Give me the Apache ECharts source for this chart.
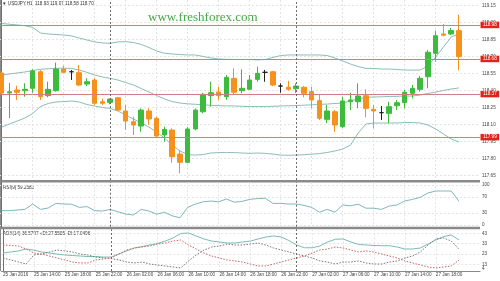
<!DOCTYPE html>
<html><head><meta charset="utf-8">
<script src="https://cdn.jsdelivr.net/npm/echarts@6/dist/echarts.min.js"></script>
<style>html,body{margin:0;padding:0;background:#fff}#c{width:500px;height:281px}</style>
</head><body><div id="c"></div>
<script>
const symbolName = 'USDJPY,H1';
const tickIndex = [0,4,8,12,16,20,24,28,32,36,40,44,48,52,56];
const tickLabels = ['25 Jan 2016','25 Jan 14:00','25 Jan 18:00','25 Jan 22:00','26 Jan 02:00','26 Jan 06:00','26 Jan 10:00','26 Jan 14:00','26 Jan 18:00','26 Jan 22:00','27 Jan 02:00','27 Jan 06:00','27 Jan 10:00','27 Jan 14:00','27 Jan 18:00'];
const daySeparators = [14, 38];

const open = [118.556,118.38,118.406,118.40,118.421,118.567,118.356,118.40,118.591,118.567, 118.559,118.459,118.494,118.303,118.297,118.338,118.221,118.126,118.088,118.221, 118.156,118.009,118.053,117.841,117.768,118.062,118.214,118.356,118.388,118.347, 118.509,118.40,118.412,118.50,118.562,118.567,118.441,118.43,118.417,118.43, 118.391,118.312,118.147,118.214,118.082,118.303,118.303,118.356,118.236,118.206, 118.20,118.267,118.294,118.377,118.412,118.523,118.73,118.90,118.90,118.93];
const close = [118.379,118.39,118.386,118.412,118.574,118.347,118.412,118.591,118.562,118.567, 118.45,118.479,118.289,118.289,118.326,118.229,118.132,118.097,118.229,118.15, 118.0,118.059,117.817,117.768,118.062,118.229,118.368,118.382,118.356,118.518, 118.386,118.421,118.494,118.553,118.562,118.45,118.441,118.412,118.441,118.377, 118.318,118.156,118.221,118.097,118.309,118.318,118.353,118.244,118.221,118.206, 118.259,118.294,118.386,118.421,118.509,118.739,118.885,118.889,118.93,118.70];
const low = [118.37,118.159,118.318,118.347,118.382,118.318,118.342,118.391,118.555,118.494, 118.44,118.44,118.274,118.274,118.28,118.22,118.053,118.009,118.038,118.097, 117.99,117.95,117.764,117.671,117.76,118.05,118.2,118.259,118.318,118.318, 118.362,118.377,118.406,118.479,118.479,118.44,118.382,118.40,118.38,118.342, 118.244,118.141,118.112,118.038,118.07,118.229,118.244,118.165,118.068,118.141, 118.112,118.229,118.244,118.332,118.391,118.421,118.656,118.88,118.89,118.58];
const high = [118.57,118.468,118.444,118.465,118.589,118.582,118.479,118.647,118.62,118.583, 118.627,118.509,118.51,118.33,118.33,118.345,118.274,118.17,118.244,118.244, 118.17,118.082,118.068,117.876,118.08,118.244,118.382,118.479,118.435,118.538, 118.597,118.589,118.538,118.612,118.583,118.575,118.465,118.488,118.465,118.441, 118.435,118.362,118.274,118.229,118.347,118.382,118.465,118.412,118.274,118.265, 118.303,118.318,118.406,118.45,118.53,118.759,118.929,118.988,118.953,119.07];

const bbUpper = [118.993,118.986,118.98,118.973,118.958,118.909,118.90,118.896,118.891,118.883, 118.865,118.847,118.83,118.821,118.818,118.83,118.832,118.825,118.808,118.781, 118.75,118.73,118.724,118.719,118.715,118.715,118.702,118.688,118.68,118.677, 118.675,118.675,118.675,118.671,118.675,118.693,118.71,118.715,118.715,118.715, 118.715,118.715,118.71,118.688,118.662,118.635,118.613,118.597,118.596,118.591, 118.591,118.587,118.582,118.582,118.582,118.618,118.697,118.785,118.874,118.90];
const bbMiddle = [118.538,118.547,118.556,118.565,118.578,118.589,118.593,118.598,118.598,118.596, 118.583,118.562,118.538,118.521,118.509,118.494,118.472,118.45,118.419,118.388, 118.357,118.327,118.304,118.291,118.284,118.28,118.275,118.271,118.268,118.266, 118.265,118.262,118.26,118.26,118.26,118.262,118.265,118.267,118.269,118.272, 118.275,118.279,118.282,118.287,118.291,118.309,118.327,118.342,118.344,118.346, 118.349,118.35,118.353,118.353,118.362,118.375,118.388,118.402,118.415,118.424];
const bbLower = [118.079,118.106,118.132,118.159,118.199,118.26,118.287,118.30,118.304,118.309, 118.30,118.278,118.265,118.252,118.243,118.221,118.185,118.15,118.115,118.079, 118.035,117.982,117.92,117.868,117.837,117.832,117.837,117.85,117.854,117.854, 117.854,117.85,117.847,117.85,117.847,117.84,117.832,117.83,117.832,117.835, 117.84,117.845,117.855,117.868,117.885,117.92,118.026,118.106,118.115,118.115, 118.115,118.115,118.119,118.119,118.115,118.097,118.062,118.018,117.974,117.947];

const levels = [118.98, 118.68, 118.37, 117.99];
const priceTicks = [117.65,117.80,117.95,118.10,118.25,118.40,118.55,118.70,118.85,119.00,119.15];

const rsi = [35.8,36,37.5,39,52.5,39,42.5,54,52.5,52, 44,46,36,35,39,33,27.5,25,39,35, 27,32,23,18,44,52.5,58,60,58,65, 57,59,64,66,67,54,54,52.5,52.5,49, 44,32,39,32,50,48,52,42,42,39, 47.5,50,60,64,69,80,85,85,85,59.2382];
const rsiTicks = [0,30,70,100];

const adx = [23.9,24.9,25.9,27.8,26.8,24.9,23.9,22.9,22,21.5, 21,20.5,20.5,20,20,23,25.9,28.8,30.2,31.7, 33.1,35.5,38.5,42.8,43.3,40.4,37.5,35.5,34.6,33.6, 33.6,34.6,35.5,37.5,39.4,40.4,39.4,36,31.7,29, 29,30.7,34.6,37.2,37.5,34.6,32.2,31.7,31.2,31, 31,29.7,27.8,27.8,28.8,32.6,36.5,39.7,41.4,36.5797];
const plusDI = [19.1,17.2,15.2,13.3,22,22.9,24.9,26.8,25.9,24.9, 22.9,22,20,19.1,18.6,17.2,15.2,14.3,15.2,13.3, 12.3,11.4,10.4,9.4,16.2,22,26.8,29.7,30.7,32.6, 31.7,31.7,32.6,33.6,31.7,28.8,26.8,24.9,22.9,21, 19.1,16.2,15.2,13.3,15.2,15.2,16.2,14.3,13.3,13.3, 15.2,16.2,19.1,21,24.9,31.7,37.5,38.5,35.5,27.5505];
const minusDI = [31.7,31.2,30.7,27.8,23.9,22.9,21,19.1,17.2,15.2, 14.3,14.3,17.2,18.1,19.1,22.9,26.8,28.8,29.7,30.7, 32.6,33.6,35.5,36.5,31.7,27.8,23.9,21,19.1,17.2, 16.2,15.2,13.3,11.4,11.4,13.3,15.2,17.2,19.1,21, 23.9,26.8,27.8,29.7,28.8,26.8,24.9,25.9,24.9,22.9, 21,19.1,16.2,14.3,12.3,10.4,9.4,10.4,11.4,17.0496];
const adxTicks = [13,23,33,43];

const FONT = 'Liberation Sans, Arial, sans-serif';
const FS = 4.6;
const n = open.length;
const last = n - 1;
const xy = arr => arr.map((v, i) => [i, v]);
const gridLine = {show: true, lineStyle: {color: '#e4e4e4', type: [2, 2], width: 1}};

function xAxisFor(gi, showLabels) {
  return {
    type: 'value', gridIndex: gi, min: -0.219, max: 61.716,
    axisLine: {show: showLabels, lineStyle: {color: '#8a8a8a'}},
    axisTick: {show: false, customValues: tickIndex},
    axisLabel: showLabels ? {
      show: true, customValues: tickIndex, align: 'left', margin: 1.5,
      fontSize: FS, fontFamily: FONT, color: '#444',
      formatter: v => tickLabels[tickIndex.indexOf(Math.round(v))] || ''
    } : {show: false},
    splitLine: gridLine
  };
}
function yAxisFor(gi, min, max, ticks, fmt) {
  return {
    type: 'value', gridIndex: gi, position: 'right', min, max, scale: true,
    axisLine: {show: true, lineStyle: {color: '#707070'}},
    axisTick: {show: false, customValues: ticks},
    axisLabel: {customValues: ticks, margin: 2, fontSize: FS, fontFamily: FONT, color: '#444', formatter: fmt},
    splitLine: gridLine
  };
}
const sepLine = gi => ({
  silent: true, symbol: 'none', animation: false,
  lineStyle: {color: '#6a6a6a', type: [2, 2], width: 1},
  label: {show: false},
  data: daySeparators.map(v => ({xAxis: v}))
});
const boxLabel = bg => ({
  show: true, position: 'end', distance: 0.5, formatter: p => p.value.toFixed(2),
  backgroundColor: bg, color: '#fff', fontSize: FS, fontFamily: FONT, padding: [1, 2.5, 0.5, 2.5]
});

const option = {
  animation: false,
  backgroundColor: '#fff',
  grid: [
    {left: 0, top: 0, width: 480, height: 180},
    {left: 0, top: 182.3, width: 480, height: 44.4},
    {left: 0, top: 229.3, width: 480, height: 41.7}
  ],
  xAxis: [xAxisFor(0, false), xAxisFor(1, false), xAxisFor(2, true)],
  yAxis: [
    yAxisFor(0, 117.612, 119.2, priceTicks, v => v.toFixed(2)),
    yAxisFor(1, -4.25, 106.75, rsiTicks, v => String(v)),
    yAxisFor(2, 6.51, 46.87, adxTicks, v => String(v))
  ],
  series: [
    {type: 'line', xAxisIndex: 0, yAxisIndex: 0, data: xy(bbUpper), symbol: 'none', lineStyle: {color: '#8dbdb5', width: 1}, z: 2},
    {type: 'line', xAxisIndex: 0, yAxisIndex: 0, data: xy(bbMiddle), symbol: 'none', lineStyle: {color: '#8dbdb5', width: 1}, z: 2},
    {type: 'line', xAxisIndex: 0, yAxisIndex: 0, data: xy(bbLower), symbol: 'none', lineStyle: {color: '#8dbdb5', width: 1}, z: 2},
    {
      type: 'candlestick', xAxisIndex: 0, yAxisIndex: 0, barWidth: 5, z: 3,
      encode: {x: 0, y: [1, 2, 3, 4]},
      data: open.map((o, i) => [i, o, close[i], low[i], high[i]]),
      itemStyle: {color: '#3dbb3d', color0: '#f5921e', borderColor: '#3dbb3d', borderColor0: '#f5921e', borderColorDoji: '#222', borderWidth: 1},
      markLine: {
        silent: true, symbol: 'none', animation: false,
        data: [
          {yAxis: close[last], lineStyle: {opacity: 0}, label: boxLabel('#141a5e')},
          ...levels.map(v => ({yAxis: v, lineStyle: {color: '#cf7f7f', type: 'solid', width: 1}, label: boxLabel('#e2231a')})),
          ...daySeparators.map(v => ({xAxis: v, lineStyle: {color: '#6a6a6a', type: [2, 2], width: 1}, label: {show: false}}))
        ]
      }
    },
    {type: 'line', xAxisIndex: 1, yAxisIndex: 1, data: xy(rsi), symbol: 'none', lineStyle: {color: '#7fb7bb', width: 1}, markLine: sepLine(1)},
    {type: 'line', xAxisIndex: 2, yAxisIndex: 2, data: xy(adx), symbol: 'none', lineStyle: {color: '#7dbab3', width: 1}, markLine: sepLine(2)},
    {type: 'line', xAxisIndex: 2, yAxisIndex: 2, data: xy(plusDI), symbol: 'none', lineStyle: {color: '#777', width: 1, type: [1.5, 1.5]}},
    {type: 'line', xAxisIndex: 2, yAxisIndex: 2, data: xy(minusDI), symbol: 'none', lineStyle: {color: '#c8675f', width: 1, type: [1.5, 1.5]}}
  ],
  graphic: [
    {type: 'rect', shape: {x: 0, y: 180, width: 480, height: 2.4}, style: {fill: '#8a8a8a'}, silent: true},
    {type: 'rect', shape: {x: 0, y: 226.8, width: 480, height: 2.5}, style: {fill: '#8a8a8a'}, silent: true},
    {type: 'line', shape: {x1: 0.5, y1: 0, x2: 0.5, y2: 271}, style: {stroke: '#8a8a8a', lineWidth: 1}, silent: true},
    {type: 'text', x: 2, y: 4, style: {text: '\u25BC ' + symbolName + '  ' + [open[last], high[last], low[last], close[last]].map(v => v.toFixed(2)).join(' '), fill: '#333', font: FS + 'px ' + FONT, verticalAlign: 'middle'}, silent: true},
    {type: 'text', x: 148, y: 18, style: {text: 'www.freshforex.com', fill: '#46a946', font: '13px Liberation Serif, Times New Roman, serif', verticalAlign: 'middle'}, silent: true},
    {type: 'text', x: 3, y: 187.5, style: {text: 'RSI(9) ' + rsi[last].toFixed(4), fill: '#333', font: FS + 'px ' + FONT, verticalAlign: 'middle'}, silent: true},
    {type: 'text', x: 3, y: 234, style: {text: 'ADX(14) ' + adx[last].toFixed(4) + ' +DI:' + plusDI[last].toFixed(4) + ' -DI:' + minusDI[last].toFixed(4), fill: '#333', font: FS + 'px ' + FONT, verticalAlign: 'middle'}, silent: true},
    {type: 'text', x: 482, y: 268.6, style: {text: '4', fill: '#444', font: FS + 'px ' + FONT, verticalAlign: 'middle'}, silent: true}
  ]
};
const chart = echarts.init(document.getElementById('c'), null, {renderer: 'canvas'});
chart.setOption(option);
</script></body></html>
